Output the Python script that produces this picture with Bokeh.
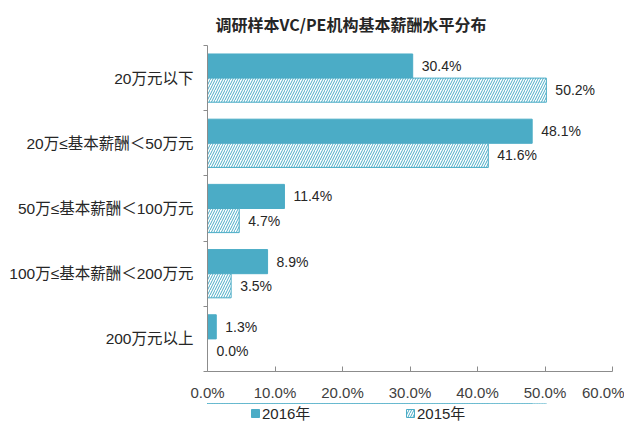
from bokeh.plotting import figure
from bokeh.layouts import column
from bokeh.models import (ColumnDataSource, Range1d, FixedTicker, LabelSet, Legend,
                          LegendItem, PrintfTickFormatter)
from bokeh.core.properties import value
from bokeh.embed import file_html
from bokeh.resources import INLINE

# ---- data ----
categories = ["20万元以下", "20万≤基本薪酬＜50万元", "50万≤基本薪酬＜100万元",
              "100万≤基本薪酬＜200万元", "200万元以上"]
values_2016 = [30.4, 48.1, 11.4, 8.9, 1.3]
values_2015 = [50.2, 41.6, 4.7, 3.5, 0.0]
series_names = ["2016年", "2015年"]
x_ticks = [0, 10, 20, 30, 40, 50, 60]
title_text = "调研样本VC/PE机构基本薪酬水平分布"

BLUE = "#4bacc6"
FONT = "Liberation Sans, Arial, Noto Sans CJK SC"
CJK = "Noto Sans CJK SC"

n = len(categories)
centers = [n - i - 0.5 for i in range(n)]
bar_h = 0.37
dodge = 0.185

src16 = ColumnDataSource(dict(y=[c + dodge for c in centers], x=values_2016,
                              lab=[f"{v:.1f}%" for v in values_2016]))
src15 = ColumnDataSource(dict(y=[c - dodge for c in centers], x=values_2015,
                              lab=[f"{v:.1f}%" for v in values_2015]))

style16 = dict(fill_color=BLUE, line_color=BLUE)
style15 = dict(fill_color="white", line_color=BLUE, line_width=1,
               hatch_pattern="/", hatch_color=BLUE, hatch_scale=5, hatch_weight=1)

p = figure(width=624, height=403, output_backend="svg", toolbar_location=None,
           x_range=Range1d(x_ticks[0], x_ticks[-1]), y_range=Range1d(0, n),
           min_border_left=207, min_border_right=12, min_border_top=44,
           min_border_bottom=31)
p.outline_line_color = None
p.grid.visible = False
p.background_fill_color = "white"
p.border_fill_color = "white"

p.title.text = title_text
p.title.text_font = CJK
p.title.text_font_size = "16px"
p.title.text_font_style = "bold"
p.title.text_color = "#262626"
p.title.align = "left"
p.title.offset = 8
p.title.standoff = 19

p.hbar(y="y", right="x", left=0, height=bar_h, source=src16, **style16)
p.hbar(y="y", right="x", left=0, height=bar_h, source=src15, **style15)

for s in (src16, src15):
    p.add_layout(LabelSet(x="x", y="y", text="lab", source=s, x_offset=9,
                          text_baseline="middle", text_align="left",
                          text_font_size=value("14px"), text_font=value(FONT),
                          text_color=value("#262626")))

# x axis
xa = p.xaxis[0]
xa.ticker = FixedTicker(ticks=x_ticks)
xa.formatter = PrintfTickFormatter(format="%.1f%%")
xa.major_tick_in = 5
xa.major_tick_out = 0
xa.minor_tick_in = 0
xa.minor_tick_out = 0
xa.axis_line_color = "#8c8c8c"
xa.major_tick_line_color = "#8c8c8c"
xa.major_label_text_font = FONT
xa.major_label_text_font_size = "15px"
xa.major_label_text_color = "#404040"
xa.major_label_standoff = 12

# y axis
ya = p.yaxis[0]
ya.ticker = FixedTicker(ticks=centers, minor_ticks=list(range(n + 1)))
ya.major_label_overrides = {c: cat for c, cat in zip(centers, categories)}
ya.major_tick_in = 0
ya.major_tick_out = 0
ya.minor_tick_in = 0
ya.minor_tick_out = 4
ya.axis_line_color = "#8c8c8c"
ya.minor_tick_line_color = "#8c8c8c"
ya.major_label_text_font = FONT
ya.major_label_text_font_size = "15.5px"
ya.major_label_text_color = "#262626"
ya.major_label_standoff = 10

# legend strip below the chart (same series, bars kept out of its view)
lf = figure(width=624, height=24, output_backend="svg", toolbar_location=None,
            x_range=Range1d(x_ticks[0], x_ticks[-1]), y_range=Range1d(-10, -9),
            min_border=0)
lf.axis.visible = False
lf.grid.visible = False
lf.outline_line_color = None
lf.background_fill_color = "white"
lf.border_fill_color = "white"
l16 = lf.hbar(y="y", right="x", left=0, height=bar_h, source=src16, **style16)
l15 = lf.hbar(y="y", right="x", left=0, height=bar_h, source=src15, **style15)

legend = Legend(items=[LegendItem(label=series_names[0], renderers=[l16]),
                       LegendItem(label=series_names[1], renderers=[l15])],
                orientation="horizontal", location=(43, 4),
                glyph_width=10, glyph_height=10, spacing=0, label_width=143,
                label_text_font=FONT, label_text_font_size="15px",
                label_text_color="#262626", label_standoff=2, label_height=14,
                background_fill_alpha=0, border_line_color=None, padding=3, margin=0)
lf.add_layout(legend, "center")

open("out.html", "w").write(file_html(column(p, lf, spacing=0), INLINE))
